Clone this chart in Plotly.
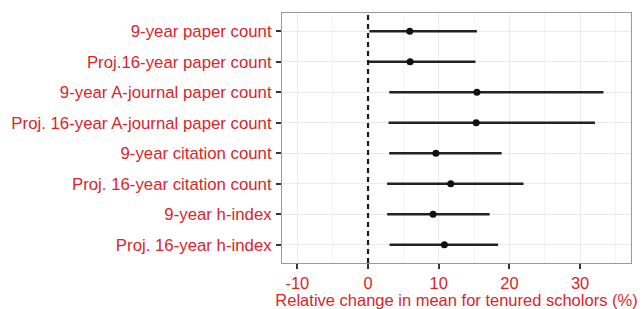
import plotly.graph_objects as go

categories = [
    "9-year paper count",
    "Proj.16-year paper count",
    "9-year A-journal paper count",
    "Proj. 16-year A-journal paper count",
    "9-year citation count",
    "Proj. 16-year citation count",
    "9-year h-index",
    "Proj. 16-year h-index",
]
estimate = [5.9, 5.95, 15.4, 15.3, 9.6, 11.7, 9.2, 10.8]
lower = [0.2, -0.05, 3.0, 2.9, 3.0, 2.7, 2.7, 3.05]
upper = [15.4, 15.2, 33.3, 32.1, 18.9, 22.0, 17.2, 18.4]
x_ticks = [-10, 0, 10, 20, 30]

red = "#d8262b"

fig = go.Figure()
fig.add_trace(go.Scatter(
    x=estimate,
    y=categories,
    mode="markers",
    marker=dict(color="#111111", size=7),
    error_x=dict(
        type="data",
        symmetric=False,
        array=[u - e for u, e in zip(upper, estimate)],
        arrayminus=[e - l for e, l in zip(estimate, lower)],
        color="#222222",
        thickness=2.5,
        width=0,
    ),
    showlegend=False,
))

fig.add_shape(type="line", xref="x", yref="paper", x0=0, x1=0, y0=0, y1=1,
              line=dict(color="#1a1a1a", width=2.2, dash="5px,4px"))

fig.update_layout(
    width=643, height=309,
    margin=dict(l=282, r=12, t=13, b=46),
    paper_bgcolor="white",
    plot_bgcolor="white",
    font=dict(family="Liberation Sans, Arial, sans-serif", color=red, size=16),
)
fig.update_xaxes(
    automargin=False,
    range=[-12.17, 37.2],
    tickvals=x_ticks,
    ticktext=[str(v) for v in x_ticks],
    showgrid=True, gridcolor="#ebebeb", gridwidth=1,
    minor=dict(dtick=5, tick0=0, showgrid=True, gridcolor="#f4f4f4", gridwidth=1),
    ticks="outside", ticklen=5, tickwidth=2, tickcolor="#333333",
    showline=True, linecolor="#9a9a9a", linewidth=1, mirror=True,
    zeroline=False,
    tickfont=dict(size=16.5, color=red),
    title=dict(text="Relative change in mean for tenured scholors (%)",
               font=dict(size=16.5, color=red), standoff=2),
)
fig.update_yaxes(
    automargin=False,
    categoryorder="array",
    categoryarray=categories,
    autorange=False,
    range=[7.6, -0.6],
    showgrid=True, gridcolor="#ebebeb", gridwidth=1,
    ticks="outside", ticklen=5, tickwidth=2, tickcolor="#333333",
    showline=True, linecolor="#9a9a9a", linewidth=1, mirror=True,
    zeroline=False,
    tickfont=dict(size=16.8, color=red),
    ticklabelstandoff=1,
)

fig.write_html("out.html", config={"displayModeBar": False},
               post_script="document.body.style.margin='0';")
